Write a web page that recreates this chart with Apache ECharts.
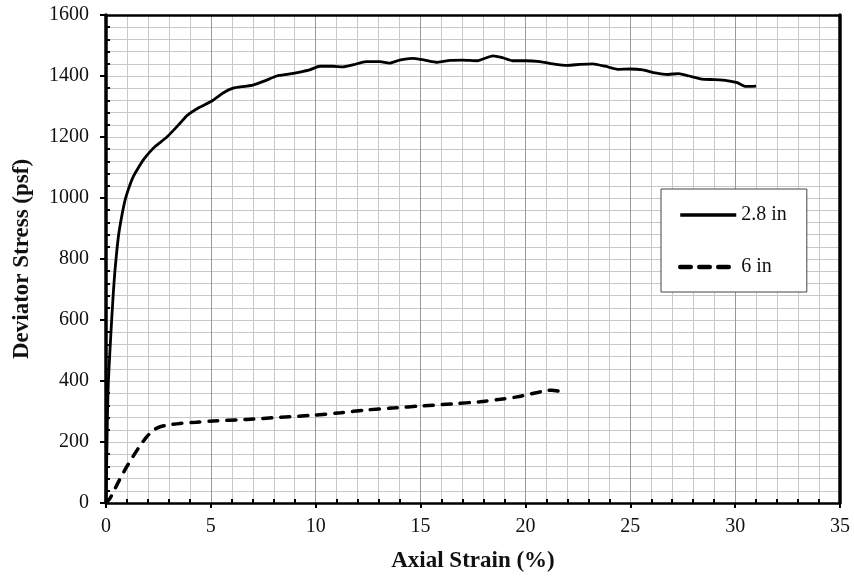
<!DOCTYPE html>
<html>
<head>
<meta charset="utf-8">
<script src="https://cdn.jsdelivr.net/npm/echarts@6/dist/echarts.min.js"></script>
<style>
  html, body { margin: 0; padding: 0; background: #fff; }
  #chart { width: 854px; height: 578px; }
</style>
</head>
<body>
<div id="chart"></div>
<script>
// Stress-strain curves for two specimen diameters
const seriesNames = ['2.8 in', '6 in'];

// [axial strain (%), deviator stress (psf)]
const curve28in = [
  [0, 0], [0.03, 120], [0.07, 290], [0.11, 393], [0.19, 502], [0.27, 600],
  [0.35, 690], [0.43, 764], [0.59, 873], [0.75, 940], [0.91, 993],
  [1.1, 1035], [1.3, 1070], [1.55, 1100], [1.78, 1125], [2.05, 1148],
  [2.34, 1169], [2.89, 1199], [3.53, 1245], [3.86, 1270], [4.4, 1295],
  [5.05, 1318], [5.6, 1345], [6.06, 1360], [6.6, 1366], [7.0, 1370],
  [7.6, 1385], [8.15, 1400], [8.7, 1406], [9.25, 1413], [9.7, 1420],
  [10.2, 1432], [10.8, 1432], [11.3, 1430], [11.8, 1437], [12.4, 1447],
  [13.07, 1447], [13.5, 1442], [14.0, 1452], [14.6, 1458], [15.2, 1452],
  [15.8, 1445], [16.4, 1451], [17.0, 1452], [17.7, 1450], [18.45, 1466],
  [18.9, 1460], [19.4, 1450], [20.0, 1450], [20.7, 1447], [21.3, 1440],
  [22.0, 1435], [22.6, 1438], [23.2, 1440], [23.8, 1432], [24.4, 1422],
  [25.0, 1423], [25.6, 1420], [26.2, 1410], [26.8, 1405], [27.3, 1408],
  [27.8, 1400], [28.4, 1390], [29.0, 1388], [29.6, 1385], [30.1, 1378],
  [30.5, 1366], [31.0, 1367]
];

const curve6in = [
  [0, 0], [0.19, 15], [0.6, 70], [0.99, 119], [1.5, 175], [1.94, 217],
  [2.3, 240], [2.58, 250], [3.0, 256], [3.53, 261], [4.3, 265],
  [5.12, 269], [6.7, 274], [8.3, 281], [9.9, 288], [11.2, 296],
  [12.4, 305], [13.8, 312], [15.0, 318], [16.5, 325], [17.83, 332],
  [18.8, 340], [19.6, 348], [20.4, 360], [21.0, 368], [21.25, 370],
  [21.55, 367]
];

// Axis ranges and tick steps
const xRange = [0, 35];
const xStep = 5;
const yRange = [0, 1600];
const yStep = 200;

const FONT = '"Liberation Serif", "Times New Roman", serif';
const GRID_MINOR = '#c8c8c8';
const GRID_MAJOR = '#9a9a9a';

const chart = echarts.init(document.getElementById('chart'), null, { renderer: 'canvas' });

const hiddenAxis = (extra) => Object.assign({
  type: 'value',
  min: 0,
  axisLabel: { show: false },
  axisTick: { show: false },
  splitLine: { show: false },
  minorSplitLine: { show: false },
  axisLine: { show: false }
}, extra);

chart.setOption({
  animation: false,
  backgroundColor: '#fff',
  grid: { left: 106, right: 14, top: 15, bottom: 75, containLabel: false },
  legend: {
    orient: 'vertical',
    left: 661,
    top: 189,
    data: [
      { name: seriesNames[0], lineStyle: { width: 3.5 } },
      { name: seriesNames[1], lineStyle: { width: 4.5, type: [10.5, 8.5], cap: 'round' } }
    ],
    backgroundColor: '#fff',
    borderColor: '#444',
    borderWidth: 1,
    borderRadius: 0,
    padding: [16, 20, 15, 17],
    itemWidth: 56,
    itemHeight: 14,
    itemGap: 32,
    // line sample only, no marker in the key
    itemStyle: { color: 'rgba(0,0,0,0)', borderWidth: 0, opacity: 0 },
    textStyle: { fontFamily: FONT, fontSize: 20, color: '#111' }
  },
  xAxis: [
    {
      type: 'value',
      min: xRange[0], max: xRange[1], interval: xStep,
      name: 'Axial Strain (%)',
      nameLocation: 'middle',
      nameGap: 47,
      nameTextStyle: { fontFamily: FONT, fontSize: 23, fontWeight: 'bold', color: '#111' },
      axisLine: { onZero: false, lineStyle: { color: '#000', width: 2.5 } },
      axisTick: { show: true, inside: false, length: 5, lineStyle: { color: '#000', width: 2 } },
      axisLabel: { fontFamily: FONT, fontSize: 20, color: '#111', margin: 14 },
      splitLine: { show: true, lineStyle: { color: GRID_MAJOR, width: 1 } },
      minorTick: { show: false, splitNumber: 5 },
      minorSplitLine: { show: true, lineStyle: { color: GRID_MINOR, width: 1 } }
    },
    // inward minor ticks along the bottom edge
    hiddenAxis({
      max: xRange[1], interval: xStep, position: 'bottom',
      axisTick: { show: false, inside: true },
      minorTick: { show: true, splitNumber: 5, length: 4, lineStyle: { color: '#000', width: 2 } }
    }),
    // top frame line
    hiddenAxis({
      max: xRange[1], interval: xStep, position: 'top',
      axisLine: { show: true, onZero: false, lineStyle: { color: '#000', width: 2.5 } }
    })
  ],
  yAxis: [
    {
      type: 'value',
      min: yRange[0], max: yRange[1], interval: yStep,
      name: 'Deviator Stress (psf)',
      nameLocation: 'middle',
      nameGap: 72,
      nameTextStyle: { fontFamily: FONT, fontSize: 23, fontWeight: 'bold', color: '#111' },
      axisLine: { show: true, onZero: false, lineStyle: { color: '#000', width: 3.5 } },
      axisTick: { show: true, inside: false, length: 6, lineStyle: { color: '#000', width: 2 } },
      axisLabel: { fontFamily: FONT, fontSize: 20, color: '#111', margin: 17, formatter: (v) => String(v) },
      splitLine: { show: true, lineStyle: { color: GRID_MINOR, width: 1 } },
      minorTick: { show: false, splitNumber: 5 },
      minorSplitLine: { show: true, lineStyle: { color: GRID_MINOR, width: 1 } }
    },
    // inward minor ticks along the left edge
    hiddenAxis({
      max: yRange[1], interval: yStep, position: 'left',
      axisTick: { show: false, inside: true },
      minorTick: { show: true, splitNumber: 5, length: 4, lineStyle: { color: '#000', width: 2 } }
    }),
    // right frame line
    hiddenAxis({
      max: yRange[1], interval: yStep, position: 'right',
      axisLine: { show: true, onZero: false, lineStyle: { color: '#000', width: 3.5 } }
    })
  ],
  series: [
    {
      name: seriesNames[0],
      type: 'line',
      data: curve28in,
      showSymbol: false,
      symbol: 'none',
      smooth: 0.2,
      lineStyle: { color: '#000', width: 2.8, type: 'solid' },
      itemStyle: { color: '#000' },
      z: 5
    },
    {
      name: seriesNames[1],
      type: 'line',
      data: curve6in,
      showSymbol: false,
      symbol: 'none',
      smooth: 0.3,
      lineStyle: { color: '#000', width: 3.5, type: [9, 9], cap: 'round' },
      itemStyle: { color: '#000' },
      z: 5
    }
  ]
});
</script>
</body>
</html>
